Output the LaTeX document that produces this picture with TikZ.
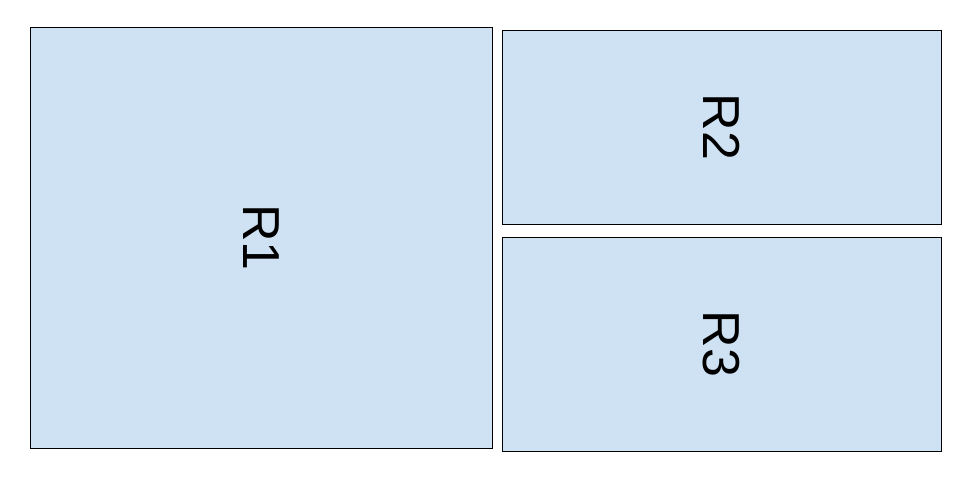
\documentclass[tikz,border=0pt]{standalone}
\usepackage{fontspec}
\setmainfont{Liberation Sans}
\usetikzlibrary{positioning}
\definecolor{regionblue}{HTML}{CFE2F3}
\tikzstyle{Region} = [
rectangle,
draw=black,
line width=1pt,
fill=regionblue,
inner sep=0pt,
outer sep=0pt,
font=\fontsize{52}{52}\selectfont
]

\begin{document}
\begin{tikzpicture}[x=1pt,y=-1pt]
            \useasboundingbox (0,0) rectangle (960,479);
            \node [Region, minimum width=462pt, minimum height=421pt] (r1) at (261,237.5) {\rotatebox{-90}{R1}};
            \node [Region, minimum width=439pt, minimum height=194pt, below right=3pt and 10pt of r1.north east] (r2) {\rotatebox{-90}{R2}};
            \node [Region, minimum width=439pt, minimum height=214pt, below=13pt of r2] (r3) {\rotatebox{-90}{R3}};
        \end{tikzpicture}
\end{document}
